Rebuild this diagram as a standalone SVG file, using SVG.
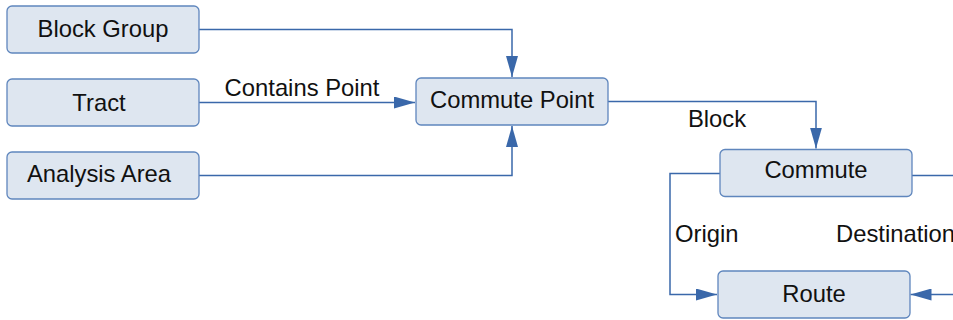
<svg xmlns="http://www.w3.org/2000/svg" width="953" height="320" viewBox="0 0 953 320">
<style>
.node rect{fill:#dee6f0;stroke:#5f86bd;stroke-width:1.3}
text{font-family:"Liberation Sans",Arial,Helvetica,sans-serif;font-size:23.8px;fill:#111}
.node text{text-anchor:middle}
.edge{fill:none;stroke:#3a68aa;stroke-width:1.5}
</style>
<defs>
<marker id="arr" markerUnits="userSpaceOnUse" markerWidth="22" markerHeight="12" refX="21" refY="6" orient="auto">
<path d="M0,0 L21,6 L0,12 Z" fill="#3a68aa"/>
</marker>
</defs>
<rect width="953" height="320" fill="#fff"/>
<g id="connectors">
<path class="edge" d="M199,29.5 H512 V77" marker-end="url(#arr)"/>
<path class="edge" d="M199,102.5 H415" marker-end="url(#arr)"/>
<path class="edge" d="M199,175.5 H512 V126" marker-end="url(#arr)"/>
<path class="edge" d="M608,101.5 H816 V148.5" marker-end="url(#arr)"/>
<path class="edge" d="M720,173.5 H670 V294.5 H717" marker-end="url(#arr)"/>
<path class="edge" d="M912,175.5 H953"/>
<path class="edge" d="M953,294.5 H910.5" marker-end="url(#arr)"/>
<text x="302" y="96" text-anchor="middle">Contains Point</text>
<text x="717" y="127.3" text-anchor="middle">Block</text>
<text x="675" y="242">Origin</text>
<text x="836" y="242">Destination</text>
</g>
<g id="block-group" class="node"><rect x="7" y="6" width="192" height="47" rx="5"/><text x="103" y="37.4">Block Group</text></g>
<g id="tract" class="node"><rect x="7" y="79" width="192" height="47" rx="5"/><text x="99" y="110.7">Tract</text></g>
<g id="analysis-area" class="node"><rect x="7" y="152" width="192" height="47" rx="5"/><text x="99" y="181.8">Analysis Area</text></g>
<g id="commute-point" class="node"><rect x="416" y="78" width="192" height="47" rx="5"/><text x="512" y="108.4">Commute Point</text></g>
<g id="commute" class="node"><rect x="720" y="149.5" width="192" height="47" rx="5"/><text x="816" y="178.4">Commute</text></g>
<g id="route" class="node"><rect x="718" y="271" width="192" height="47" rx="5"/><text x="814" y="301.7">Route</text></g>
</svg>
